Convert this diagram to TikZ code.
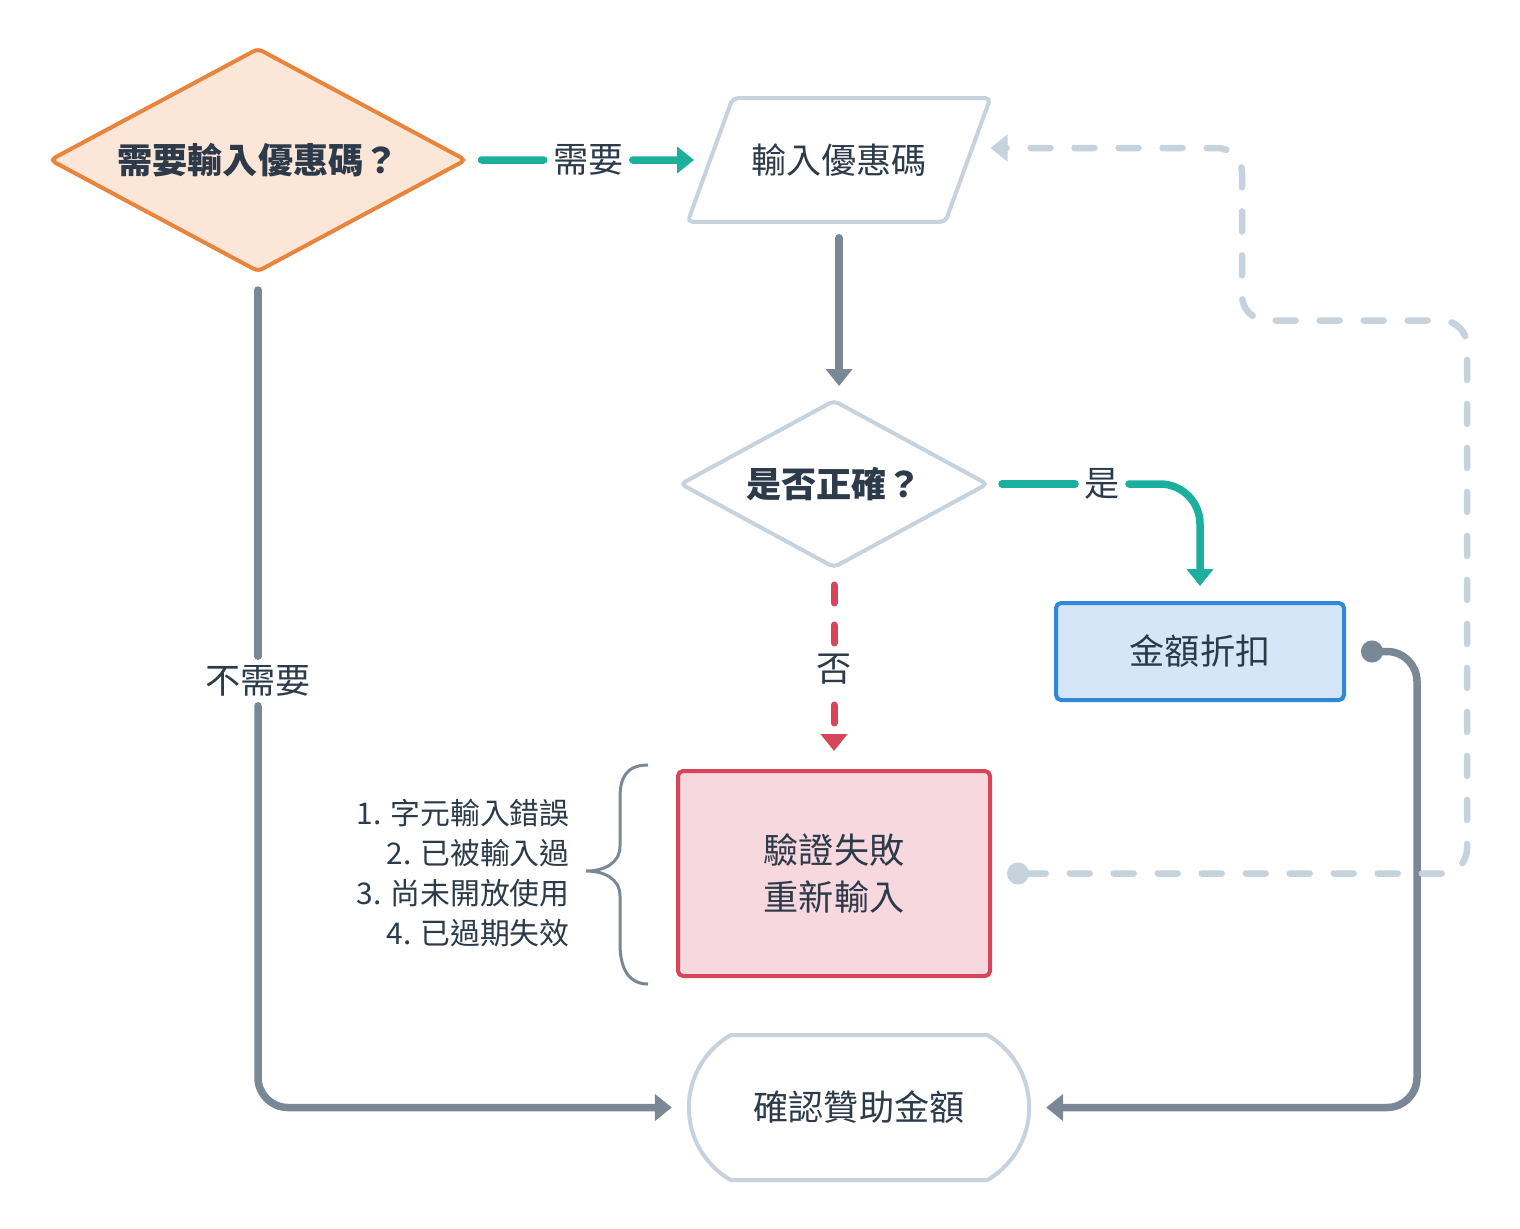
\documentclass[tikz,border=0pt]{standalone}
\usepackage{fontspec}
\setmainfont{Noto Sans CJK TC}
\usetikzlibrary{shapes.geometric,shapes.misc,arrows.meta,calc}
\definecolor{ink}{HTML}{2C3A4A}
\definecolor{orangeline}{HTML}{E8843C}
\definecolor{orangefill}{HTML}{FCE6D8}
\definecolor{teal}{HTML}{1BAF9D}
\definecolor{slate}{HTML}{7A8896}
\definecolor{pale}{HTML}{C6D3DD}
\definecolor{blueline}{HTML}{2F88D8}
\definecolor{bluefill}{HTML}{D4E6F7}
\definecolor{redline}{HTML}{D6455A}
\definecolor{redfill}{HTML}{F7D8DE}
\begin{document}
\begin{tikzpicture}[
  x=0.2mm, y=-0.2mm,
  txt/.style={font=\fontsize{20pt}{27pt}\selectfont, text=ink},
  decision/.style={diamond, draw=pale, line width=0.8mm, rounded corners=1mm,
                   inner sep=0pt, align=center, text=ink,
                   font=\bfseries\fontsize{20pt}{27pt}\selectfont},
  iobox/.style={trapezium, trapezium left angle=70, trapezium right angle=110,
                draw=pale, line width=0.8mm, rounded corners=1mm, fill=white, txt},
  box/.style={rectangle, draw, line width=0.8mm, rounded corners=1mm,
              align=center, txt},
  terminal/.style={rounded rectangle, rounded rectangle arc length=120,
                   draw=pale, line width=0.8mm, fill=white, txt},
  lbl/.style={inner sep=1.3mm, txt},
  >={Triangle[width=5.2mm,length=3.4mm]},
  tline/.style={draw=teal, line width=1.5mm, line cap=round},
  gline/.style={draw=slate, line width=1.5mm, line cap=round},
  rarr/.style={->, draw=redline, line width=1.4mm, line cap=round,
               dash pattern=on 3.6mm off 4.4mm},
  dline/.style={{Circle[length=4.4mm]}->, draw=pale, line width=1.3mm,
                line cap=round, dash pattern=on 4mm off 4.8mm},
]
\useasboundingbox (0,0) rectangle (1520,1228);
% Need a code?
\node[decision, draw=orangeline, fill=orangefill, aspect=1.86, minimum width=83.4mm,
      minimum height=44.8mm] (ask) at (258,160) {需要輸入優惠碼？};
% Input
\node[iobox, inner xsep=3.7mm, inner ysep=9.1mm] (input) at (839,160) {輸入優惠碼};
% Correct?
\node[decision, fill=white, aspect=1.83, minimum width=61.6mm, minimum height=33.6mm]
      (check) at (834,484) {是否正確？};
% Discount
\node[box, draw=blueline, fill=bluefill, minimum width=57.6mm,
      minimum height=19.4mm] (amount) at (1200,651.5) {金額折扣};
% Failed
\node[box, draw=redline, fill=redfill, minimum width=62.4mm,
      minimum height=41mm] (fail) at (834,873.5) {驗證失敗\\重新輸入};
% Confirm
\node[terminal, minimum width=70.4mm, minimum height=29mm] (confirm) at (859,1107.5) {確認贊助金額};
% Reasons
\node[align=right, anchor=east, inner sep=0pt, text=ink, font=\fontsize{17pt}{22.8pt}\selectfont]
      (reasons) at (570,873) {1. 字元輸入錯誤\\2. 已被輸入過\\3. 尚未開放使用\\4. 已過期失效};
\draw[slate, line width=0.6mm]
  ($(fail.north west)+(-28,-4)$) .. controls +(-22,0) and +(0,-20) .. ++(-28,33)
  -- ++(0,48) .. controls +(0,18) and +(17,0) .. ++(-34,25)
  .. controls +(17,0) and +(0,-18) .. ++(34,25)
  -- ++(0,48) .. controls +(0,20) and +(-22,0) .. ($(fail.south west)+(-28,6)$);

% Labels
\node[lbl] (need) at ($(ask.east)!0.5!(input.west)$) {需要};
\node[lbl] (yes) at (1102,484) {是};
\node[lbl] (skip) at (258,681) {不需要};

\draw[tline, shorten <=2.6mm, shorten >=0.5mm] (ask.east) -- (need);
\draw[tline, ->, shorten <=0.5mm, shorten >=2.8mm] (need) -- (input);
\draw[gline, ->, shorten <=2.8mm, shorten >=2.4mm] (input.south) -- (input.south |- check.north);
\draw[tline, shorten <=2.4mm, shorten >=0.5mm] (check.east) -- (yes);
\draw[tline, ->, rounded corners=8mm, shorten <=0.5mm, shorten >=3mm] (yes) -| (amount.north);
\draw[rarr, shorten <=3mm, shorten >=3.6mm] (check.south) -- node[lbl, fill=white]{否} (fail.north);
\draw[gline, shorten <=3.2mm, shorten >=0.5mm] (ask.south) -- (skip);
\draw[gline, ->, rounded corners=6mm, shorten <=0.5mm, shorten >=3mm] (skip) |- (confirm.west);
\draw[gline, {Circle[length=4.4mm]}->, rounded corners=6mm, shorten <=3mm, shorten >=3mm]
  (amount.east) -- ++(71,0) |- (confirm.east);
\draw[dline, rounded corners=5mm, shorten <=3mm, shorten >=3.2mm]
  (fail.east) -- ++(475,0) -- ++(0,-553) -- ++(-225,0)
  |- ([xshift=0.9mm,yshift=2.4mm]input.east);
\end{tikzpicture}
\end{document}
